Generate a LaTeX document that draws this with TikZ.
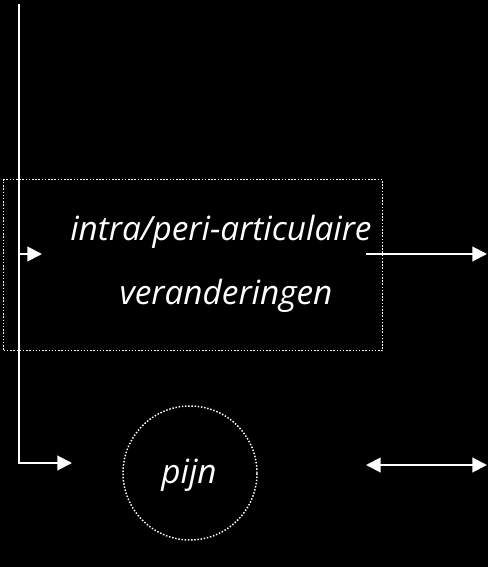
\documentclass[tikz,border=0pt]{standalone}
\usepackage{fontspec}
\setmainfont{Open Sans}
\usetikzlibrary{arrows.meta}
\begin{document}
\begin{tikzpicture}[x=0.75pt,y=-0.75pt,
  conn/.style={draw=white,line width=1.5pt,-{Triangle[length=11pt,width=11pt]}},
  dconn/.style={draw=white,line width=1.5pt,{Triangle[length=11pt,width=11pt]}-{Triangle[length=11pt,width=11pt]}},
  lbl/.style={text=white,font=\itshape\fontsize{25}{30}\selectfont,inner sep=0pt},
  dotbox/.style={draw=white,line width=1.1pt,dash pattern=on 1.1pt off 1.3pt}]
\fill[black] (0,0) rectangle (488,567);
\useasboundingbox (0,0) rectangle (488,567);
\node[dotbox,minimum width=379*0.75pt,minimum height=171*0.75pt,anchor=north west] (box) at (3,179) {};
\node[lbl] (t1) at (221,232) {intra/peri-articulaire};
\node[lbl] (t2) at (226,296) {veranderingen};
\node[dotbox,circle,minimum size=134*0.75pt] (pijn) at (190,473) {};
\node[lbl] (pt) at (189,475) {pijn};
\coordinate (top) at (19,4);
\coordinate (corner) at (19,463);
\coordinate (tip1) at (72,463);
\coordinate (b1) at (19,254);
\coordinate (tip2) at (42,254);
\coordinate (r1s) at (366,254);
\coordinate (r1e) at (487,254);
\coordinate (r2s) at (366,465);
\coordinate (r2e) at (487,465);
\draw[conn] (top) -- (corner) -- (tip1);
\draw[conn] (b1) -- (tip2);
\draw[conn] (r1s) -- (r1e);
\draw[dconn] (r2s) -- (r2e);
\end{tikzpicture}
\end{document}
